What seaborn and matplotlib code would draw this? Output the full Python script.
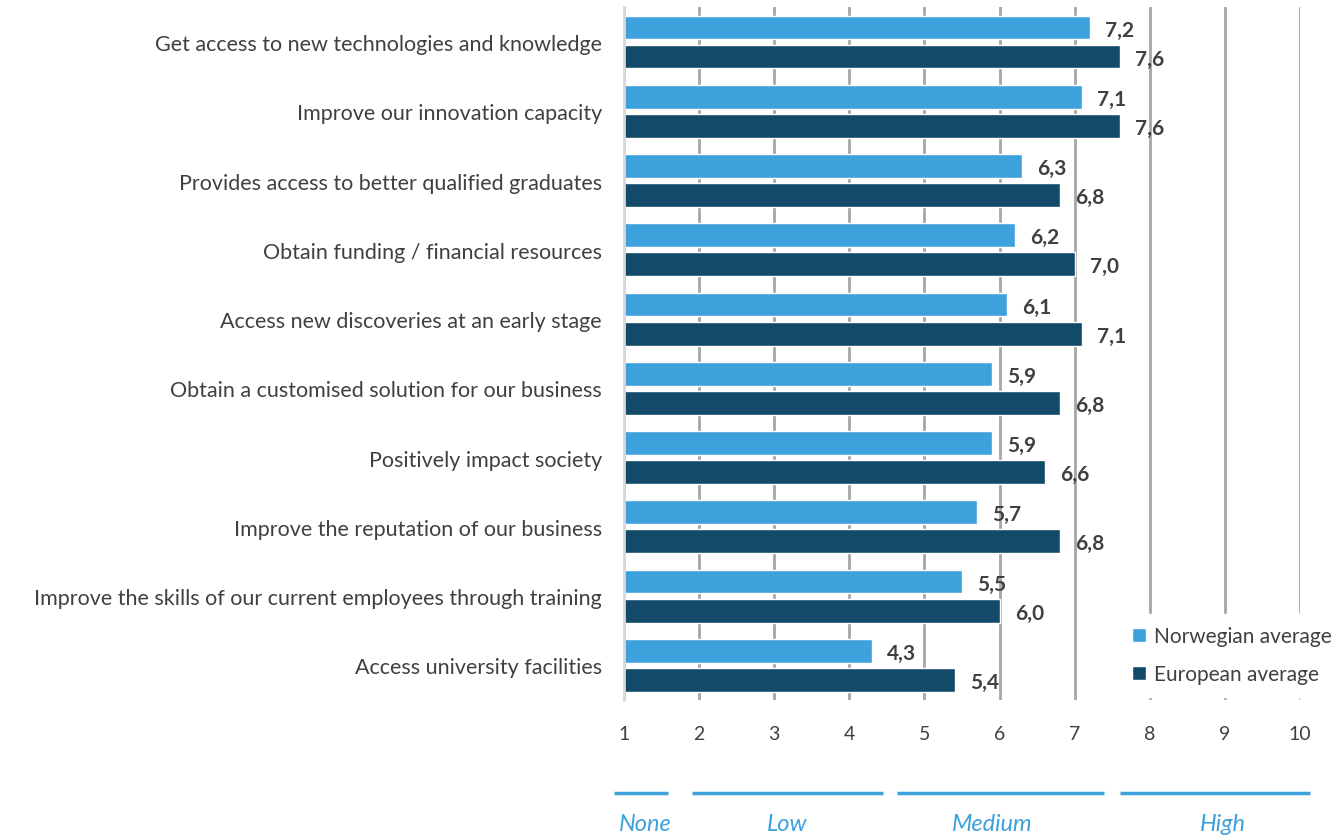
import matplotlib
matplotlib.use("Agg")
import matplotlib.pyplot as plt
import pandas as pd
import seaborn as sns

# Survey results: average importance (1-10) of motivations for cooperating with universities
categories = [
    "Get access to new technologies and knowledge",
    "Improve our innovation capacity",
    "Provides access to better qualified graduates",
    "Obtain funding / financial resources",
    "Access new discoveries at an early stage",
    "Obtain a customised solution for our business",
    "Positively impact society",
    "Improve the reputation of our business",
    "Improve the skills of our current employees through training",
    "Access university facilities",
]
norwegian = [7.2, 7.1, 6.3, 6.2, 6.1, 5.9, 5.9, 5.7, 5.5, 4.3]
european = [7.6, 7.6, 6.8, 7.0, 7.1, 6.8, 6.6, 6.8, 6.0, 5.4]
series_names = ["Norwegian average", "European average"]
tick_values = list(range(1, 11))

# Qualitative scale bands shown under the axis: (label, start, end, label centre)
bands = [
    ("None", 0.87, 1.59, 1.28),
    ("Low", 1.91, 4.45, 3.17),
    ("Medium", 4.64, 7.39, 5.9),
    ("High", 7.6, 10.13, 8.97),
]

LIGHT = "#3da2db"
DARK = "#134a69"
TEXT = "#404040"

df = pd.DataFrame({
    "category": categories * 2,
    "value": norwegian + european,
    "series": [series_names[0]] * len(categories) + [series_names[1]] * len(categories),
})

sns.set_theme(style="white")
plt.rcParams["font.family"] = ["Lato", "DejaVu Sans"]

fig = plt.figure(figsize=(13.44, 8.37), dpi=100)
ax = fig.add_axes([0.4643, 0.1625, 0.503, 0.8275])

sns.barplot(
    data=df, y="category", x="value", hue="series",
    palette=[LIGHT, DARK], orient="h", width=0.84, gap=0.18,
    saturation=1, ax=ax, legend=True,
)

ax.set_xlim(1, 10)
ax.set_ylim(9.5, -0.5)
ax.set_xticks(tick_values)
ax.set_xticklabels([str(t) for t in tick_values])
ax.set_xlabel("")
ax.set_ylabel("")

ax.xaxis.grid(True, color="#a6a6a6", linewidth=2)
ax.yaxis.grid(False)
ax.set_axisbelow(True)
for side in ["top", "right", "bottom"]:
    ax.spines[side].set_visible(False)
ax.spines["left"].set_color("#d9d9d9")
ax.spines["left"].set_linewidth(2)
ax.spines["left"].set_zorder(3)

ax.tick_params(axis="x", length=0, pad=18, labelsize=14, labelcolor=TEXT)
ax.tick_params(axis="y", length=0, pad=16, labelsize=15.5, labelcolor=TEXT)

# Value labels next to each bar
for container in ax.containers:
    labels = [f"{w:.1f}".replace(".", ",") for w in container.datavalues]
    ax.bar_label(container, labels=labels, padding=11, fontsize=15,
                 fontweight="bold", color=TEXT)
    for t in ax.texts[-len(labels):]:
        x, y = t.xyann
        t.xyann = (x, y - 1.5)

# Legend with a solid white box in the lower right
handles, lbls = ax.get_legend_handles_labels()
leg = ax.legend(
    handles, lbls, loc="lower left", bbox_to_anchor=(0.825, 0.154),
    bbox_transform=fig.transFigure, frameon=True, fancybox=False,
    facecolor="white", edgecolor="white", framealpha=1,
    fontsize=15, handlelength=0.7, handleheight=0.7, handletextpad=0.35,
    labelspacing=0.85, borderpad=0.6, labelcolor=TEXT,
)
leg.set_zorder(5)

# Scale band annotations under the axis
trans = ax.get_xaxis_transform()
for name, start, end, mid in bands:
    ax.plot([start, end], [-0.134, -0.134], color=LIGHT, linewidth=2.5,
            transform=trans, clip_on=False, solid_capstyle="butt")
    ax.text(mid, -0.178, name, transform=trans, ha="center", va="center",
            fontsize=17, style="italic", color=LIGHT, clip_on=False)

fig.savefig("out.png", dpi=100, facecolor="white")
